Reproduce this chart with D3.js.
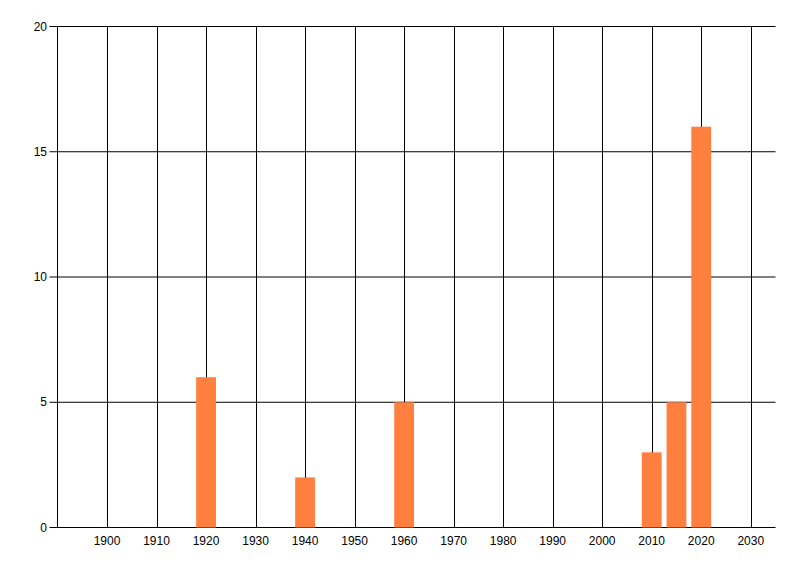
<!DOCTYPE html>
<html><head><meta charset="utf-8">
<script src="https://cdn.jsdelivr.net/npm/d3@7"></script>
<style>body{margin:0;background:#fff}svg{display:block}text{font-family:"Liberation Sans Narrow","Liberation Sans",Arial,sans-serif;font-size:12px;fill:#000}</style>
</head><body><svg id="c" width="800" height="576"></svg>
<script>
const years = [1920, 1940, 1960, 2010, 2015, 2020];
const counts = [6, 2, 5, 3, 5, 16];
const xTicks = [1900,1910,1920,1930,1940,1950,1960,1970,1980,1990,2000,2010,2020,2030];
const yTicks = [0,5,10,15,20];

const svg = d3.select("#c");
const L=57.5, R=775.5, T=26.5, B=527.5;
const x = d3.scaleLinear().domain([1890,2035]).range([L,R]);
const y = d3.scaleLinear().domain([0,20]).range([B,T]);

// vertical grid lines
svg.append("g").selectAll("line").data(xTicks).join("line")
  .attr("x1",d=>Math.round(x(d))+0.5).attr("x2",d=>Math.round(x(d))+0.5)
  .attr("y1",T).attr("y2",B).attr("stroke","#000");
// horizontal grid lines + y ticks
svg.append("g").selectAll("line").data(yTicks).join("line")
  .attr("x1",L-8).attr("x2",R).attr("y1",d=>y(d)).attr("y2",d=>y(d)).attr("stroke","#000");
// left axis line
svg.append("line").attr("x1",L).attr("x2",L).attr("y1",T).attr("y2",B).attr("stroke","#000");

// bars
svg.append("g").selectAll("rect").data(years).join("rect")
  .attr("x",d=>x(d-2)).attr("width",d=>x(d+2)-x(d-2))
  .attr("y",(d,i)=>y(counts[i])).attr("height",(d,i)=>y(0)-y(counts[i]))
  .attr("fill","#FF7F3F");

// labels
svg.append("g").selectAll("text").data(xTicks).join("text")
  .attr("x",d=>x(d)).attr("y",545).attr("text-anchor","middle").text(d=>d);
svg.append("g").selectAll("text").data(yTicks).join("text")
  .attr("x",47).attr("y",d=>y(d)+4).attr("text-anchor","end").text(d=>d);
</script></body></html>
